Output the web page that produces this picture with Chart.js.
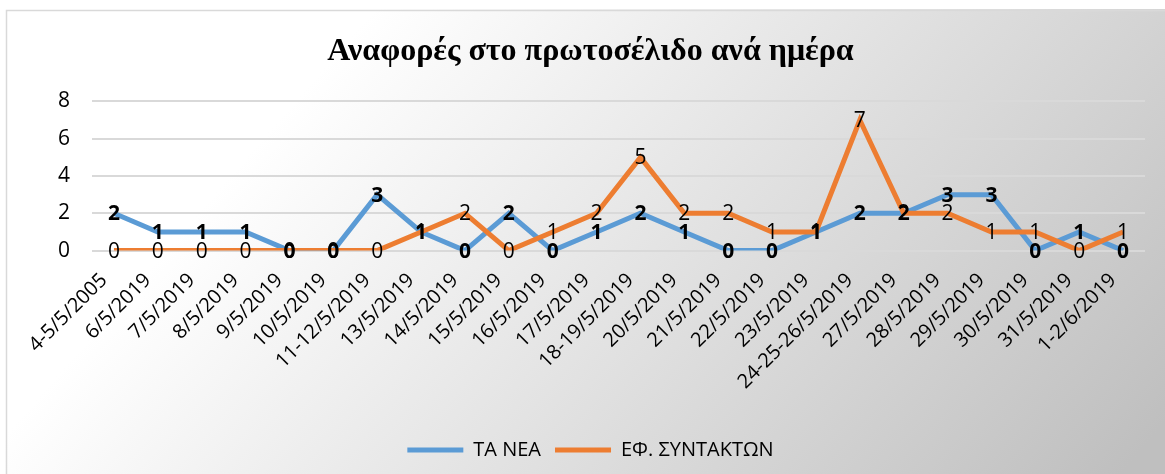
<!DOCTYPE html>
<html>
<head>
<meta charset="utf-8">
<script src="https://cdn.jsdelivr.net/npm/chart.js@4"></script>
<style>
html,body{margin:0;padding:0;background:#fff;}
#wrap{width:1165px;height:474px;position:relative;}
</style>
</head>
<body>
<div id="wrap"><canvas id="c" width="1165" height="474"></canvas></div>
<script>
const categories = ["4-5/5/2005","6/5/2019","7/5/2019","8/5/2019","9/5/2019","10/5/2019","11-12/5/2019","13/5/2019","14/5/2019","15/5/2019","16/5/2019","17/5/2019","18-19/5/2019","20/5/2019","21/5/2019","22/5/2019","23/5/2019","24-25-26/5/2019","27/5/2019","28/5/2019","29/5/2019","30/5/2019","31/5/2019","1-2/6/2019"];
const taNea = [2,1,1,1,0,0,3,1,0,2,0,1,2,1,0,0,1,2,2,3,3,0,1,0];
const efSyntakton = [0,0,0,0,0,0,0,1,2,0,1,2,5,2,2,1,1,7,2,2,1,1,0,1];
const yTicks = [0,2,4,6,8];
const seriesNames = ["ΤΑ ΝΕΑ","ΕΦ. ΣΥΝΤΑΚΤΩΝ"];
const titleText = "Αναφορές στο πρωτοσέλιδο ανά ημέρα";

const bgPlugin = {
  id:'bg',
  beforeDraw(chart){
    const ctx = chart.ctx, w = chart.width, h = chart.height;
    ctx.save();
    const g = ctx.createLinearGradient(0,0,w*0.75,h*1.6);
    g.addColorStop(0,'#ffffff');
    g.addColorStop(0.25,'#ffffff');
    g.addColorStop(1,'#bfbfbf');
    ctx.fillStyle = g;
    ctx.fillRect(0,0,w,h);
    ctx.fillStyle = '#ffffff';
    ctx.fillRect(0,0,w,9);
    ctx.fillRect(0,0,5,h);
    ctx.strokeStyle = '#d9d9d9';
    ctx.lineWidth = 1.5;
    ctx.beginPath();
    ctx.moveTo(6.5,h+2); ctx.lineTo(6.5,10.5); ctx.lineTo(w+2,10.5);
    ctx.stroke();
    ctx.restore();
  }
};

const labelPlugin = {
  id:'dlabels',
  afterDatasetsDraw(chart){
    const ctx = chart.ctx;
    ctx.save();
    ctx.textAlign='center';
    ctx.textBaseline='middle';
    ctx.fillStyle='#000';
    [1,0].forEach(di=>{
      const meta = chart.getDatasetMeta(di);
      const ds = chart.data.datasets[di];
      ctx.font = (di===0?'bold ':'') + '21px "Open Sans", "DejaVu Sans", sans-serif';
      meta.data.forEach((pt,i)=>{
        ctx.fillText(String(ds.data[i]), pt.x, pt.y+1);
      });
    });
    ctx.restore();
  }
};

new Chart(document.getElementById('c'),{
  type:'line',
  data:{
    labels:categories,
    datasets:[
      {label:seriesNames[0],data:taNea,borderColor:'#5B9BD5',backgroundColor:'#5B9BD5',borderWidth:5,pointRadius:0,tension:0,order:2},
      {label:seriesNames[1],data:efSyntakton,borderColor:'#ED7D31',backgroundColor:'#ED7D31',borderWidth:5,pointRadius:0,tension:0,order:1}
    ]
  },
  options:{
    responsive:false,
    animation:false,
    layout:{padding:{left:36,right:20,top:14,bottom:4}},
    plugins:{
      title:{display:true,text:titleText,color:'#000',font:{family:'"Liberation Serif", "Times New Roman", serif',size:32,weight:'bold'},padding:{top:19,bottom:30}},
      legend:{position:'bottom',labels:{usePointStyle:true,pointStyle:'line',pointStyleWidth:56,boxHeight:20,color:'#000',font:{family:'"Open Sans", sans-serif',size:20},padding:14,sort:(a,b)=>a.datasetIndex-b.datasetIndex}},
      tooltip:{enabled:false}
    },
    scales:{
      x:{
        offset:true,
        grid:{display:false},
        border:{display:false},
        ticks:{color:'#000',font:{family:'"Open Sans", sans-serif',size:20},minRotation:45,maxRotation:45,autoSkip:false,padding:10,labelOffset:-10},
        afterFit(axis){ axis.height += 22; }
      },
      y:{
        min:0,max:8,
        afterBuildTicks(axis){axis.ticks = yTicks.map(v=>({value:v}));},
        grid:{color:'#d9d9d9',lineWidth:2,drawTicks:false},
        border:{display:false},
        ticks:{color:'#000',font:{family:'"Open Sans", sans-serif',size:21},padding:22}
      }
    }
  },
  plugins:[bgPlugin,labelPlugin]
});
</script>
</body>
</html>
